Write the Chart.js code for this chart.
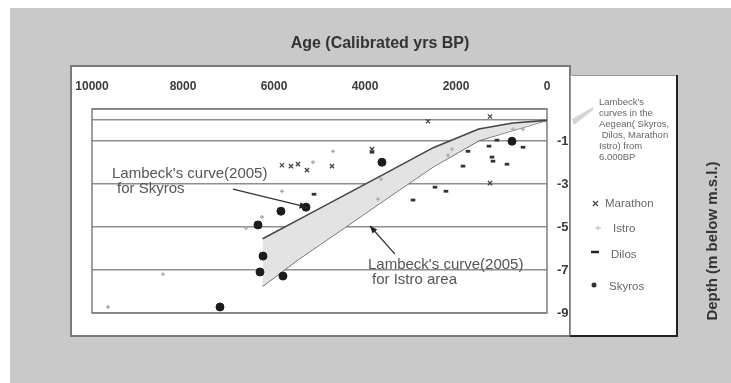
<!DOCTYPE html>
<html>
<head>
<meta charset="utf-8">
<script src="https://cdn.jsdelivr.net/npm/chart.js@4.4.0/dist/chart.umd.min.js"></script>
<style>
html, body { margin: 0; padding: 0; background: #fff; }
#wrap { width: 731px; height: 383px; }
</style>
</head>
<body>
<div id="wrap"><canvas id="sea-level" width="731" height="383"></canvas></div>
<script>
// axis ticks
const ageTicks = [10000, 8000, 6000, 4000, 2000, 0];
const depthLabels = [-1, -3, -5, -7, -9];
const depthGrid = [0.5, 0, -1, -3, -5, -7, -9];

// Lambeck's curves (2005)
const curveAges = [6250, 5500, 4500, 3500, 2500, 1500, 750, 0];
const skyrosCurve = [-5.54, -4.70, -3.57, -2.44, -1.30, -0.43, -0.15, -0.03];
const istroCurve = [-7.75, -6.55, -5.10, -3.63, -2.19, -0.97, -0.50, -0.03];

// sample sites
const marathonAge = [5825, 5627, 5473, 5275, 4726, 2616, 1253, 1253, 3846];
const marathonDepth = [-2.12, -2.16, -2.07, -2.35, -2.16, -0.07, 0.15, -2.95, -1.37];

const istroAge = [5143, 4703, 5825, 6264, 6616, 8440, 9649, 3649, 2088, 2176, 527, 747, 3715];
const istroDepth = [-1.98, -1.47, -3.33, -4.53, -5.05, -7.19, -8.72, -2.77, -1.37, -1.65, -0.44, -0.44, -3.70];

const dilosAge = [5121, 2462, 2220, 2945, 1736, 1846, 1275, 1099, 527, 879, 1209, 1187, 3846];
const dilosDepth = [-3.47, -3.14, -3.33, -3.74, -1.47, -2.16, -1.23, -0.95, -1.28, -2.07, -1.74, -1.93, -1.51];

const skyrosAge = [5847, 5297, 6352, 6242, 6308, 5803, 7187, 3627, 769];
const skyrosDepth = [-4.26, -4.07, -4.90, -6.35, -7.09, -7.28, -8.72, -1.98, -1.00];

function toPoints(xs, ys) {
    return xs.map((x, i) => ({ x: x, y: ys[i] }));
}

const FONT = '"Liberation Sans", Arial, sans-serif';

// labels with arrows, in data units (age, depth)
const notes = [
    { lines: ["Lambeck's curve(2005)", "for Skyros"], at: [9561, -2.53], indent: 5,
      from: [6902, -3.23], to: [5275, -4.07] },
    { lines: ["Lambeck's curve(2005)", "for Istro area"], at: [3934, -6.77], indent: 4,
      from: [3341, -6.26], to: [3890, -4.95] }
];

function arrow(ctx, x1, y1, x2, y2) {
    ctx.beginPath();
    ctx.moveTo(x1, y1);
    ctx.lineTo(x2, y2);
    ctx.stroke();
    let a = Math.atan2(y2 - y1, x2 - x1);
    ctx.beginPath();
    ctx.moveTo(x2, y2);
    ctx.lineTo(x2 - 8 * Math.cos(a - 0.4), y2 - 8 * Math.sin(a - 0.4));
    ctx.lineTo(x2 - 8 * Math.cos(a + 0.4), y2 - 8 * Math.sin(a + 0.4));
    ctx.closePath();
    ctx.fill();
}

const framePlugin = {
    id: 'frame',
    beforeDraw(chart) {
        let ctx = chart.ctx;
        ctx.save();
        ctx.fillStyle = '#fff';
        ctx.fillRect(0, 0, chart.width, chart.height);
        ctx.fillStyle = '#c9c9c9';
        ctx.fillRect(10, 8, chart.width - 10, chart.height - 8);
        ctx.fillStyle = '#fff';
        ctx.fillRect(71, 66, 499, 270);
        ctx.strokeStyle = '#7a7a7a';
        ctx.lineWidth = 2;
        ctx.strokeRect(71, 66, 499, 270);
        ctx.restore();
    },
    beforeDatasetsDraw(chart) {
        let ctx = chart.ctx, a = chart.chartArea;
        ctx.save();
        ctx.strokeStyle = '#7d7d7d';
        ctx.lineWidth = 1.5;
        ctx.strokeRect(a.left, a.top, a.right - a.left, a.bottom - a.top);
        ctx.restore();
    },
    afterDraw(chart) {
        let ctx = chart.ctx;
        let xs = chart.scales.x, ys = chart.scales.y;
        ctx.save();

        // titles
        ctx.fillStyle = '#333';
        ctx.font = 'bold 16px ' + FONT;
        ctx.textAlign = 'center';
        ctx.textBaseline = 'middle';
        ctx.fillText('Age (Calibrated yrs BP)', 380, 44);
        ctx.save();
        ctx.translate(713, 241);
        ctx.rotate(-Math.PI / 2);
        ctx.font = 'bold 15px ' + FONT;
        ctx.fillText('Depth (m below m.s.l.)', 0, 0);
        ctx.restore();

        // notes
        ctx.font = '15px ' + FONT;
        ctx.textAlign = 'left';
        ctx.fillStyle = '#555';
        ctx.strokeStyle = '#333';
        ctx.lineWidth = 1.3;
        notes.forEach(n => {
            let x = xs.getPixelForValue(n.at[0]);
            let y = ys.getPixelForValue(n.at[1]);
            ctx.fillText(n.lines[0], x, y);
            ctx.fillText(n.lines[1], x + n.indent, y + 15);
            ctx.fillStyle = '#222';
            arrow(ctx, xs.getPixelForValue(n.from[0]), ys.getPixelForValue(n.from[1]),
                       xs.getPixelForValue(n.to[0]), ys.getPixelForValue(n.to[1]));
            ctx.fillStyle = '#555';
        });

        // legend box
        ctx.fillStyle = '#fff';
        ctx.fillRect(570, 75, 107, 261);
        ctx.strokeStyle = '#999';
        ctx.lineWidth = 1;
        ctx.beginPath();
        ctx.moveTo(570.5, 336);
        ctx.lineTo(570.5, 75.5);
        ctx.lineTo(677, 75.5);
        ctx.stroke();
        ctx.strokeStyle = '#222';
        ctx.lineWidth = 2;
        ctx.beginPath();
        ctx.moveTo(677, 75);
        ctx.lineTo(677, 336);
        ctx.lineTo(570, 336);
        ctx.stroke();

        // fill sample
        ctx.fillStyle = '#d4d4d4';
        ctx.beginPath();
        ctx.moveTo(572, 119);
        ctx.lineTo(593, 107);
        ctx.lineTo(593, 110);
        ctx.lineTo(574, 125);
        ctx.closePath();
        ctx.fill();

        ctx.fillStyle = '#666';
        ctx.font = '9.5px ' + FONT;
        ctx.textBaseline = 'middle';
        ["Lambeck's", "curves in the", "Aegean( Skyros,", " Dilos, Marathon", "Istro) from", "6.000BP"]
            .forEach((t, i) => ctx.fillText(t, 599, 102 + i * 11));

        ctx.font = '11.5px ' + FONT;
        ctx.fillText('Marathon', 605, 204);
        ctx.fillText('Istro', 613, 229);
        ctx.fillText('Dilos', 611, 255);
        ctx.fillText('Skyros', 609, 287);

        // legend markers
        ctx.strokeStyle = '#444';
        ctx.lineWidth = 1.2;
        ctx.beginPath();
        ctx.moveTo(593, 201); ctx.lineTo(598, 206);
        ctx.moveTo(598, 201); ctx.lineTo(593, 206);
        ctx.stroke();
        ctx.strokeStyle = '#bbb';
        ctx.beginPath();
        ctx.moveTo(595, 228); ctx.lineTo(601, 228);
        ctx.moveTo(598, 226); ctx.lineTo(598, 230);
        ctx.stroke();
        ctx.strokeStyle = '#222';
        ctx.lineWidth = 2.5;
        ctx.beginPath();
        ctx.moveTo(591, 252); ctx.lineTo(599, 252);
        ctx.stroke();
        ctx.fillStyle = '#333';
        ctx.beginPath();
        ctx.arc(594, 285, 2.5, 0, Math.PI * 2);
        ctx.fill();

        ctx.restore();
    }
};

var ctx = document.getElementById('sea-level');
var data = {
    datasets: [{
        label: "Lambeck's curve Skyros",
        data: toPoints(curveAges, skyrosCurve),
        showLine: true,
        pointRadius: 0,
        borderColor: '#444',
        borderWidth: 1.6,
        backgroundColor: '#e3e3e3',
        fill: '+1',
        order: 10
    }, {
        label: "Lambeck's curve Istro",
        data: toPoints(curveAges, istroCurve),
        showLine: true,
        pointRadius: 0,
        borderColor: '#555',
        borderWidth: 1.3,
        fill: false,
        order: 11
    }, {
        label: "Marathon",
        data: toPoints(marathonAge, marathonDepth),
        pointStyle: 'crossRot',
        pointRadius: 3,
        borderColor: '#444',
        borderWidth: 1.3,
        order: 2
    }, {
        label: "Istro",
        data: toPoints(istroAge, istroDepth),
        pointStyle: 'cross',
        pointRadius: 2,
        borderColor: '#aaa',
        borderWidth: 1.3,
        order: 3
    }, {
        label: "Dilos",
        data: toPoints(dilosAge, dilosDepth),
        pointStyle: 'line',
        pointRadius: 2.3,
        borderColor: '#333',
        borderWidth: 2.8,
        order: 2
    }, {
        label: "Skyros",
        data: toPoints(skyrosAge, skyrosDepth),
        pointStyle: 'circle',
        pointRadius: 4,
        backgroundColor: '#1c1c1c',
        borderColor: '#1c1c1c',
        borderWidth: 1,
        order: 1
    }]
};

var options = {
    responsive: false,
    animation: false,
    layout: { padding: { left: 92, top: 0, right: 0, bottom: 70 } },
    plugins: {
        legend: { display: false },
        tooltip: { enabled: false }
    },
    scales: {
        x: {
            type: 'linear',
            position: 'top',
            reverse: true,
            min: 0,
            max: 10000,
            afterFit: s => { s.height = 109; },
            afterBuildTicks: s => { s.ticks = ageTicks.map(v => ({ value: v })); },
            ticks: {
                callback: v => String(v),
                font: { family: FONT, size: 12, weight: 'bold' },
                color: '#3a3a3a',
                padding: 15,
                maxRotation: 0
            },
            grid: { display: false, drawTicks: false },
            border: { display: false }
        },
        y: {
            type: 'linear',
            position: 'right',
            min: -9,
            max: 0.5,
            afterFit: s => { s.width = 184; },
            afterBuildTicks: s => { s.ticks = depthGrid.map(v => ({ value: v })); },
            ticks: {
                callback: v => depthLabels.includes(v) ? String(v) : '',
                font: { family: FONT, size: 13, weight: 'bold' },
                color: '#3a3a3a',
                padding: 10
            },
            grid: { color: '#8e8e8e', lineWidth: 1.6, drawTicks: false },
            border: { display: false }
        }
    }
};

var seaLevelChart = new Chart(ctx, {
    type: 'scatter',
    data: data,
    options: options,
    plugins: [framePlugin]
});
</script>
</body>
</html>
